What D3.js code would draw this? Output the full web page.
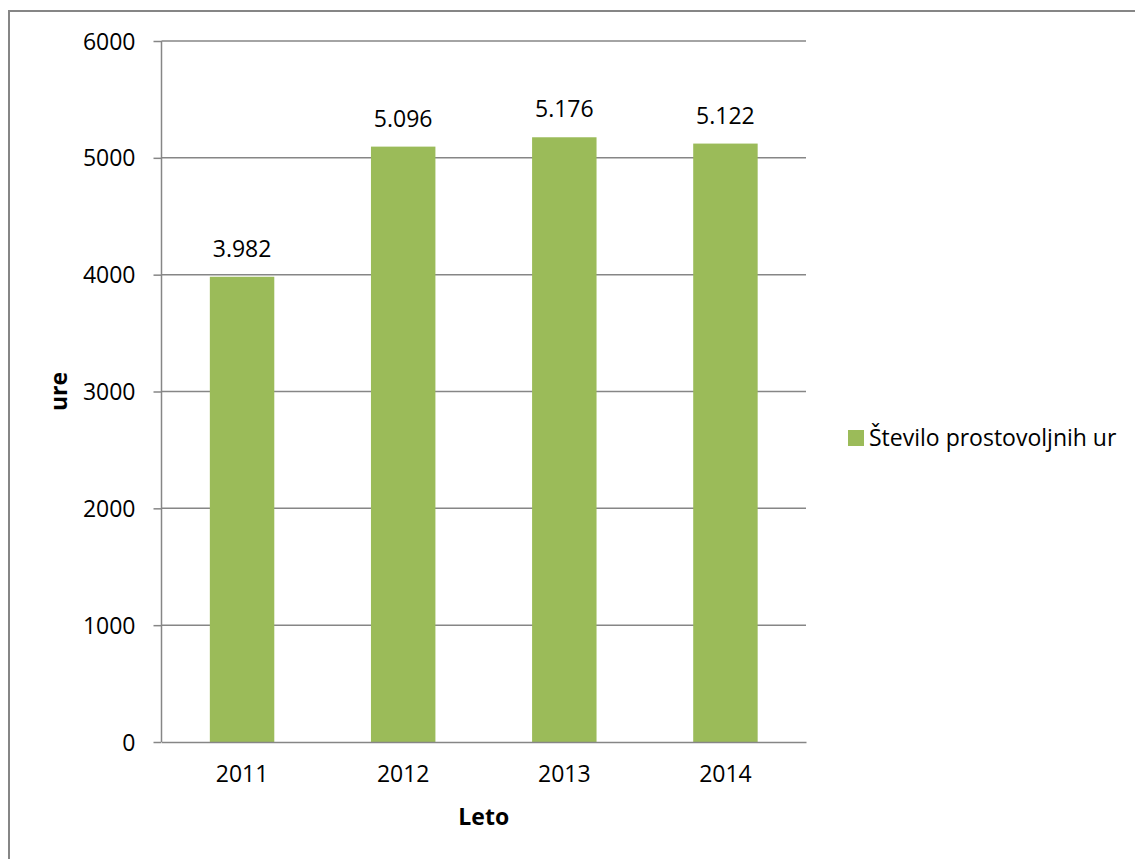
<!DOCTYPE html>
<html><head><meta charset="utf-8">
<script src="https://cdn.jsdelivr.net/npm/d3@7"></script>
<style>body{margin:0;background:#fff}svg{display:block}text{font-family:"Open Sans",sans-serif;fill:#000}</style>
</head><body><svg id="c" width="1135" height="859"></svg>
<script>
const categories = ["2011","2012","2013","2014"];
const values = [3982, 5096, 5176, 5122];
const yTicks = [0,1000,2000,3000,4000,5000,6000];
const seriesName = "Število prostovoljnih ur";
const yTitle = "ure", xTitle = "Leto";

const svg = d3.select("#c");
const fs = 23;
const color = "#9BBB59", grid = "#868686";
svg.append("rect").attr("x",9).attr("y",11).attr("width",1300).attr("height",1000)
  .attr("fill","none").attr("stroke",grid).attr("stroke-width",2);

const L = 161.5, R = 806, T = 41, B = 742;
const x = d3.scaleBand().domain(categories).range([L,R]).paddingInner(0.6).paddingOuter(0.3);
const y = d3.scaleLinear().domain([0,6000]).range([B,T]);

const ya = svg.append("g").attr("transform",`translate(${L},0)`)
  .call(d3.axisLeft(y).tickValues(yTicks).tickSize(8).tickPadding(18).tickFormat(d3.format("d")));
ya.select(".domain").remove();
ya.selectAll(".tick line").attr("stroke",grid).attr("stroke-width",1.5);
ya.selectAll(".tick text").attr("font-size",fs).attr("font-family","Open Sans").attr("dy","0.35em");
// gridlines
svg.append("g").selectAll("line").data(yTicks.filter(d=>d>0)).join("line")
  .attr("x1",L).attr("x2",R).attr("y1",d=>y(d)).attr("y2",d=>y(d))
  .attr("stroke",grid).attr("stroke-width",1.5);

svg.append("g").selectAll("rect").data(values).join("rect")
  .attr("x",(d,i)=>x(categories[i])).attr("width",x.bandwidth())
  .attr("y",d=>y(d)).attr("height",d=>B-y(d)).attr("fill",color);

// axes lines
svg.append("line").attr("x1",L).attr("x2",L).attr("y1",T).attr("y2",B).attr("stroke",grid).attr("stroke-width",1.5);
const xa = svg.append("g").attr("transform",`translate(0,${B})`)
  .call(d3.axisBottom(x).tickSize(0).tickPadding(24));
xa.select(".domain").attr("stroke",grid).attr("stroke-width",1.5);
xa.selectAll(".tick text").attr("font-size",fs).attr("font-family","Open Sans");

const fmt = d3.formatLocale({decimal:",",thousands:".",grouping:[3],currency:["","€"]}).format(",d");
svg.append("g").selectAll("text").data(values).join("text")
  .attr("x",(d,i)=>x(categories[i])+x.bandwidth()/2).attr("y",d=>y(d)-20)
  .attr("text-anchor","middle").attr("font-size",fs).text(d=>fmt(d));

svg.append("text").attr("transform",`translate(67,${(T+B)/2}) rotate(-90)`)
  .attr("text-anchor","middle").attr("font-size",fs).attr("font-weight","bold").text(yTitle);
svg.append("text").attr("x",(L+R)/2).attr("y",825).attr("text-anchor","middle")
  .attr("font-size",fs).attr("font-weight","bold").text(xTitle);

svg.append("rect").attr("x",848).attr("y",430).attr("width",16).attr("height",16).attr("fill",color);
svg.append("text").attr("x",869).attr("y",446).attr("font-size",fs).text(seriesName);
</script></body></html>
